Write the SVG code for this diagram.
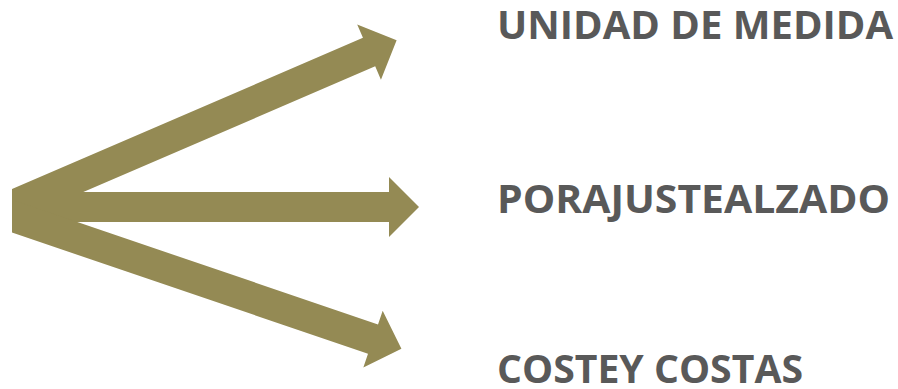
<svg xmlns="http://www.w3.org/2000/svg" width="898" height="389" viewBox="0 0 898 389">
<style>
.arrow{fill:#948A54;stroke:none}
.lbl{font-family:"Open Sans","Liberation Sans",sans-serif;font-weight:700;font-size:40px;fill:#595959}
</style>
<defs>
<clipPath id="leftcut"><rect x="12" y="0" width="886" height="389"/></clipPath>
</defs>
<rect width="898" height="389" fill="#FFFFFF"/>
<g id="connectors" clip-path="url(#leftcut)">
<path class="arrow" transform="translate(14,205) rotate(-23.3)" d="M-4,-15.5 L386.6,-15.5 L386.6,-30 L416.6,0 L386.6,30 L386.6,15.5 L-4,15.5 Z"/>
<path class="arrow" transform="translate(12,207)" d="M0,-15 L377,-15 L377,-30 L407,0 L377,30 L377,15 L0,15 Z"/>
<path class="arrow" transform="translate(13,216.5) rotate(18.8)" d="M-4,-15.5 L380.3,-15.5 L380.3,-30 L410.3,0 L380.3,30 L380.3,15.5 L-4,15.5 Z"/>
</g>
<g id="node-unidad">
<text class="lbl" x="497" y="39" textLength="396" lengthAdjust="spacingAndGlyphs">UNIDAD DE MEDIDA</text>
</g>
<g id="node-ajuste">
<text class="lbl" x="497" y="213" textLength="393" lengthAdjust="spacingAndGlyphs">PORAJUSTEALZADO</text>
</g>
<g id="node-coste">
<text class="lbl" x="497" y="383" textLength="306" lengthAdjust="spacingAndGlyphs">COSTEY COSTAS</text>
</g>
</svg>
